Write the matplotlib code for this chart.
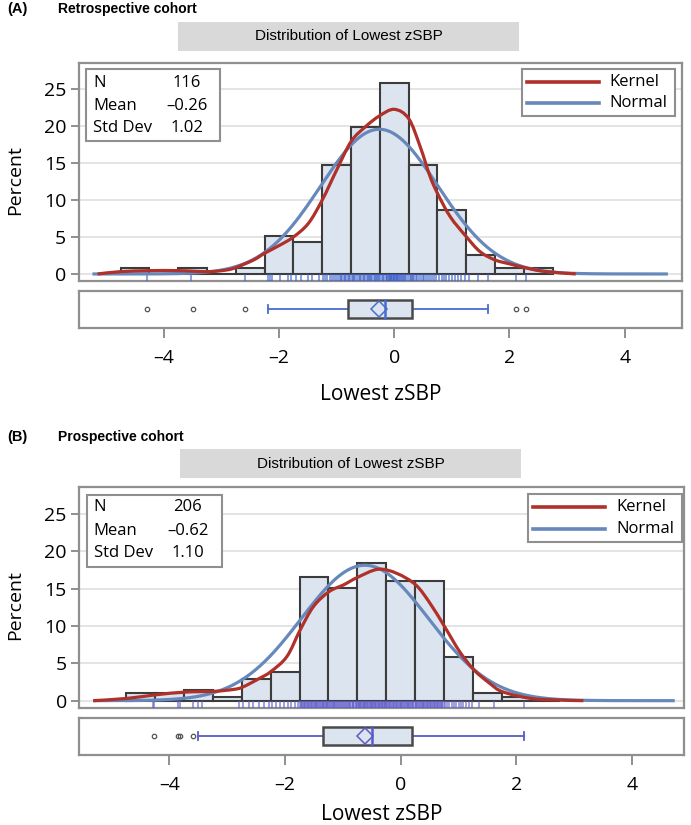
import numpy as np
import matplotlib
matplotlib.use("Agg")
import matplotlib.pyplot as plt
from matplotlib.path import Path
from matplotlib.patches import PathPatch, Rectangle
from matplotlib.lines import Line2D

# ---------------- data ----------------
bin_centers = [-4.5, -4.0, -3.5, -3.0, -2.5, -2.0, -1.5, -1.0, -0.5, 0.0, 0.5, 1.0, 1.5, 2.0, 2.5]
bin_width = 0.5

# Panel A (retrospective)
pct_a = [0.86, 0.0, 0.86, 0.0, 0.86, 5.17, 4.31, 14.66, 19.83, 25.86, 14.66, 8.62, 2.59, 0.86, 0.86]
n_a, mean_a, sd_a = 116, -0.26, 1.02
kern_a_x = [-5.15, -4.76, -4.24, -3.74, -3.23, -2.91, -2.74, -2.44, -2.25, -1.98, -1.75, -1.49, -1.25, -1.0,
            -0.75, -0.5, -0.26, 0.0, 0.25, 0.45, 0.62, 0.75, 0.97, 1.25, 1.49, 1.75, 2.01, 2.24, 2.59, 3.15]
kern_a_y = [0.0, 0.31, 0.45, 0.45, 0.31, 0.54, 0.9, 1.9, 2.8, 3.92, 5.0, 6.85, 10.0, 14.05,
            17.9, 19.9, 21.35, 22.25, 21.0, 17.2, 13.2, 10.9, 7.75, 5.04, 3.01, 1.89, 1.35, 0.9, 0.36, 0.0]
box_a = dict(q1=-0.80, med=-0.165, q3=0.31, wlo=-2.19, whi=1.63, mean=-0.26,
             out=[-4.29, -3.50, -2.60, 2.11, 2.29])
rug_a = [-4.29, -3.53, -2.60,
         -2.19, -2.15, -2.12, -1.98, -1.85, -1.80,
         -1.70, -1.62, -1.50, -1.42, -1.30,
         -1.24, -1.20, -1.16, -1.12, -1.08, -1.05, -1.02, -0.98, -0.95, -0.92, -0.90, -0.88, -0.85, -0.83,
         -0.81, -0.78, -0.76,
         -0.74, -0.72, -0.70, -0.68, -0.65, -0.62, -0.60, -0.58, -0.55, -0.52, -0.50, -0.48, -0.46, -0.44,
         -0.42, -0.40, -0.38, -0.36, -0.34, -0.32, -0.30, -0.28, -0.26,
         -0.24, -0.21, -0.19, -0.17, -0.15, -0.13, -0.12, -0.10, -0.09, -0.07, -0.06, -0.05, -0.04, -0.02,
         -0.01, 0.00, 0.01, 0.03, 0.04, 0.05, 0.07, 0.08, 0.10, 0.11, 0.13, 0.15, 0.17, 0.19, 0.21, 0.23,
         0.27, 0.29, 0.31, 0.33, 0.35, 0.38, 0.40, 0.43, 0.46, 0.49, 0.52, 0.55, 0.58, 0.62, 0.65, 0.69, 0.73,
         0.78, 0.82, 0.86, 0.90, 0.95, 1.00, 1.05, 1.10, 1.16, 1.22,
         1.30, 1.45, 1.63, 2.11, 2.29]

# Panel B (prospective)
pct_b = [0.97, 0.97, 1.46, 0.49, 2.91, 3.88, 16.5, 15.05, 18.45, 16.0, 16.0, 5.83, 0.97, 0.49, 0.0]
n_b, mean_b, sd_b = 206, -0.62, 1.10
kern_b_x = [-5.32, -4.74, -4.22, -3.73, -3.23, -2.90, -2.74, -2.44, -2.25, -1.97, -1.74, -1.51, -1.24, -0.99,
            -0.75, -0.39, -0.07, 0.26, 0.51, 0.76, 1.02, 1.27, 1.54, 1.76, 2.24, 2.70, 3.16]
kern_b_y = [0.0, 0.3, 0.8, 1.15, 1.25, 1.5, 1.8, 3.0, 3.88, 5.9, 9.46, 12.6, 14.6, 15.5,
            16.5, 17.6, 17.05, 15.5, 13.0, 9.9, 6.56, 4.1, 2.32, 1.2, 0.31, 0.09, 0.0]
box_b = dict(q1=-1.34, med=-0.49, q3=0.19, wlo=-3.50, whi=2.13, mean=-0.61,
             out=[-4.27, -3.86, -3.82, -3.60])
rug_b = [-4.28, -4.27, -3.86, -3.82, -3.60, -3.50, -3.44, -2.80,
         -2.72, -2.62, -2.55, -2.46, -2.36, -2.28,
         -2.22, -2.16, -2.09, -2.02, -1.95, -1.89, -1.83, -1.78,
         -1.74, -1.73, -1.71, -1.70, -1.68, -1.67, -1.65, -1.64, -1.62, -1.61, -1.59, -1.58, -1.56, -1.55,
         -1.53, -1.52, -1.50, -1.49, -1.47, -1.46, -1.44, -1.43, -1.41, -1.40, -1.38, -1.37, -1.35, -1.34,
         -1.32, -1.31, -1.30, -1.28, -1.27, -1.26,
         -1.24, -1.22, -1.21, -1.19, -1.18, -1.16, -1.15, -1.13, -1.12, -1.10, -1.08, -1.07, -1.05, -1.03,
         -1.02, -1.00, -0.98, -0.97, -0.95, -0.93, -0.92, -0.90, -0.88, -0.87, -0.85, -0.83, -0.82, -0.80,
         -0.78, -0.77, -0.76,
         -0.74, -0.73, -0.72, -0.70, -0.69, -0.68, -0.66, -0.65, -0.64, -0.62, -0.61, -0.60, -0.58, -0.57,
         -0.56, -0.54, -0.53, -0.52, -0.50, -0.49, -0.48, -0.46, -0.45, -0.44, -0.42, -0.41, -0.40, -0.38,
         -0.37, -0.36, -0.34, -0.33, -0.32, -0.30, -0.29, -0.28, -0.27, -0.26,
         -0.24, -0.23, -0.21, -0.20, -0.18, -0.17, -0.15, -0.14, -0.12, -0.11, -0.09, -0.08, -0.06, -0.05,
         -0.03, -0.02, 0.00, 0.01, 0.03, 0.04, 0.06, 0.07, 0.09, 0.10, 0.12, 0.13, 0.15, 0.16, 0.18, 0.19,
         0.21, 0.22, 0.24,
         0.26, 0.27, 0.29, 0.30, 0.32, 0.33, 0.35, 0.36, 0.38, 0.39, 0.41, 0.42, 0.44, 0.45, 0.47, 0.48,
         0.50, 0.51, 0.53, 0.54, 0.56, 0.57, 0.59, 0.60, 0.62, 0.63, 0.65, 0.66, 0.68, 0.69, 0.71, 0.72, 0.74,
         0.77, 0.80, 0.84, 0.88, 0.92, 0.96, 1.00, 1.04, 1.08, 1.13, 1.18, 1.23,
         1.35, 1.62, 2.13]

x_ticks = [-4, -2, 0, 2, 4]
y_ticks = [0, 5, 10, 15, 20, 25]
panel_letters = ["(A)", "(B)"]
panel_names = ["Retrospective cohort", "Prospective cohort"]
title_text = "Distribution of Lowest zSBP"
x_label = "Lowest zSBP"
y_label = "Percent"
legend_labels = ["Kernel", "Normal"]

# ---------------- style ----------------
W, H = 691, 825
FONT = "Open Sans"
HFONT = "Liberation Sans"
BAR_FILL = "#dbe4ef"
BAR_EDGE = "#3c3c3c"
KERN_C = "#b0302a"
NORM_C = "#6688bb"
FRAME_C = "#8f8f8f"
GRID_C = "#e2e2e2"

fig = plt.figure(figsize=(W / 100, H / 100), dpi=100)
fig.patch.set_facecolor("white")


def rect(x0, y0, x1, y1):
    return [x0 / W, 1 - y1 / H, (x1 - x0) / W, (y1 - y0) / H]


def fx(x):
    return x / W


def fy(y):
    return 1 - y / H


def smooth_path(xs, ys):
    pts = np.column_stack([xs, ys]).astype(float)
    verts = [pts[0]]
    codes = [Path.MOVETO]
    n = len(pts)
    for i in range(n - 1):
        p0 = pts[i - 1] if i > 0 else pts[i]
        p1 = pts[i]
        p2 = pts[i + 1]
        p3 = pts[i + 2] if i + 2 < n else pts[i + 1]
        verts += [p1 + (p2 - p0) / 6.0, p2 - (p3 - p1) / 6.0, p2]
        codes += [Path.CURVE4] * 3
    return Path(verts, codes)


def style_frame(ax):
    for s in ax.spines.values():
        s.set_color(FRAME_C)
        s.set_linewidth(1.6)


panels = [
    dict(pct=pct_a, n=n_a, mean=mean_a, sd=sd_a, kx=kern_a_x, ky=kern_a_y, box=box_a, rug=rug_a,
         hist=(78.6, 62.7, 682.3, 281.0), boxr=(78.6, 291.0, 682.3, 327.7), xlim=(-5.48, 5.0),
         ylim=(-0.95, 28.55), header_y=9, title_box=(178, 21.7, 519, 50.7), xlabel_y=395,
         stats_box=(86, 69.3, 220, 140.7), stats_rows=(82.7, 105.7, 128.3),
         leg_box=(521.7, 69.3, 675, 116), leg_rows=(81.7, 103.3), normal_x=(-5.24, 4.75),
         rug_c="#3a5fcc", whisk_c="#4a6ccc"),
    dict(pct=pct_b, n=n_b, mean=mean_b, sd=sd_b, kx=kern_b_x, ky=kern_b_y, box=box_b, rug=rug_b,
         hist=(79.3, 486.7, 684.0, 708.3), boxr=(79.3, 717.7, 684.0, 755.0), xlim=(-5.56, 4.90),
         ylim=(-1.02, 28.65), header_y=437, title_box=(180, 449.3, 521, 478.3), xlabel_y=815,
         stats_box=(86.7, 495, 222.3, 566.7), stats_rows=(507.3, 531, 553.3),
         leg_box=(528, 494, 682, 541.7), leg_rows=(506.7, 529.3), normal_x=(-5.32, 4.74),
         rug_c="#5f5fcc", whisk_c="#5b5bc8"),
]

for k, P in enumerate(panels):
    # header
    fig.text(fx(7), fy(P["header_y"]), panel_letters[k], fontsize=10.5, fontweight="bold",
             family=HFONT, va="center", ha="left")
    fig.text(fx(58), fy(P["header_y"]), panel_names[k], fontsize=10, fontweight="bold",
             family=HFONT, va="center", ha="left")
    tx0, ty0, tx1, ty1 = P["title_box"]
    fig.add_artist(Rectangle((fx(tx0), fy(ty1)), fx(tx1) - fx(tx0), fy(ty0) - fy(ty1),
                             transform=fig.transFigure, facecolor="#d9d9d9", edgecolor="none"))
    fig.text(fx((tx0 + tx1) / 2), fy((ty0 + ty1) / 2), title_text, fontsize=11, family=HFONT,
             va="center", ha="center")

    # histogram axes
    ax = fig.add_axes(rect(*P["hist"]))
    ax.set_xlim(*P["xlim"])
    ax.set_ylim(*P["ylim"])
    for yt in y_ticks:
        ax.axhline(yt, color=GRID_C, lw=1.3, zorder=0)
    ax.bar(bin_centers, P["pct"], width=bin_width, align="center", color=BAR_FILL,
           edgecolor=BAR_EDGE, linewidth=1.5, zorder=2)
    ax.vlines(P["rug"], P["ylim"][0], 0, color=P["rug_c"], lw=1.1, alpha=0.75, zorder=3)
    xs = np.linspace(P["normal_x"][0], P["normal_x"][1], 400)
    ys = 100 * bin_width * np.exp(-0.5 * ((xs - P["mean"]) / P["sd"]) ** 2) / (P["sd"] * np.sqrt(2 * np.pi))
    ax.plot(xs, ys, color=NORM_C, lw=2.3, zorder=4, solid_capstyle="butt")
    ax.add_patch(PathPatch(smooth_path(P["kx"], P["ky"]), fill=False, edgecolor=KERN_C, lw=2.3,
                           zorder=5))
    ax.set_xticks([])
    ax.set_yticks(y_ticks)
    ax.tick_params(axis="y", length=6, width=1.4, color=FRAME_C, pad=3, labelsize=14)
    for lab in ax.get_yticklabels():
        lab.set_family(FONT)
    style_frame(ax)

    # stats box
    sx0, sy0, sx1, sy1 = P["stats_box"]
    fig.add_artist(Rectangle((fx(sx0), fy(sy1)), fx(sx1) - fx(sx0), fy(sy0) - fy(sy1),
                             transform=fig.transFigure, facecolor="white", edgecolor=FRAME_C, lw=1.5))
    labels = ["N", "Mean", "Std Dev"]
    vals = [f"{P['n']}", f"{P['mean']:.2f}".replace("-", "\u2013"), f"{P['sd']:.2f}"]
    for lab, val, ry in zip(labels, vals, P["stats_rows"]):
        fig.text(fx(sx0 + 7), fy(ry), lab, fontsize=12, family=FONT, va="center", ha="left")
        fig.text(fx(sx0 + 101), fy(ry), val, fontsize=12, family=FONT, va="center", ha="center")

    # legend
    lx0, ly0, lx1, ly1 = P["leg_box"]
    fig.add_artist(Rectangle((fx(lx0), fy(ly1)), fx(lx1) - fx(lx0), fy(ly0) - fy(ly1),
                             transform=fig.transFigure, facecolor="white", edgecolor=FRAME_C, lw=1.5))
    for lab, col, ry in zip(legend_labels, [KERN_C, NORM_C], P["leg_rows"]):
        fig.add_artist(Line2D([fx(lx0 + 5), fx(lx0 + 77)], [fy(ry), fy(ry)], transform=fig.transFigure,
                              color=col, lw=2.6))
        fig.text(fx(lx0 + 88), fy(ry), lab, fontsize=12, family=FONT, va="center", ha="left")

    # y label
    y0h, y1h = P["hist"][1], P["hist"][3]
    fig.text(fx(15), fy((y0h + y1h) / 2 + 8), y_label, rotation=90, fontsize=14, family=FONT,
             va="center", ha="center")

    # box plot axes
    bx = fig.add_axes(rect(*P["boxr"]))
    bx.set_xlim(*P["xlim"])
    bx.set_ylim(0, 1)
    B = P["box"]
    yc = 0.505
    hh = 0.25
    bx.plot([B["wlo"], B["q1"]], [yc, yc], color=P["whisk_c"], lw=1.3, zorder=2)
    bx.plot([B["q3"], B["whi"]], [yc, yc], color=P["whisk_c"], lw=1.3, zorder=2)
    bx.plot([B["wlo"], B["wlo"]], [yc - 0.11, yc + 0.11], color=P["whisk_c"], lw=1.3)
    bx.plot([B["whi"], B["whi"]], [yc - 0.11, yc + 0.11], color=P["whisk_c"], lw=1.3)
    bx.add_patch(Rectangle((B["q1"], yc - hh), B["q3"] - B["q1"], 2 * hh, facecolor=BAR_FILL,
                           edgecolor="#4a4a4a", lw=1.8, zorder=3))
    bx.plot([B["med"], B["med"]], [yc - hh, yc + hh], color=P["whisk_c"], lw=1.8, zorder=4)
    bx.plot([B["mean"]], [yc], marker="D", markersize=8, markerfacecolor="none",
            markeredgecolor=P["whisk_c"], markeredgewidth=1.1, zorder=5)
    bx.plot(B["out"], [yc] * len(B["out"]), linestyle="none", marker="o", markersize=3.2,
            markerfacecolor="none", markeredgecolor="#555555", markeredgewidth=0.9)
    bx.set_yticks([])
    bx.set_xticks(x_ticks)
    bx.set_xticklabels([f"{t}".replace("-", "\u2013") for t in x_ticks])
    bx.tick_params(axis="x", length=7, width=1.4, color=FRAME_C, pad=8, labelsize=14)
    for lab in bx.get_xticklabels():
        lab.set_family(FONT)
    style_frame(bx)

    # x label
    fig.text(fx((P["boxr"][0] + P["boxr"][2]) / 2), fy(P["xlabel_y"]), x_label, fontsize=15,
             family=FONT, va="center", ha="center")

fig.savefig("out.png", dpi=100)
